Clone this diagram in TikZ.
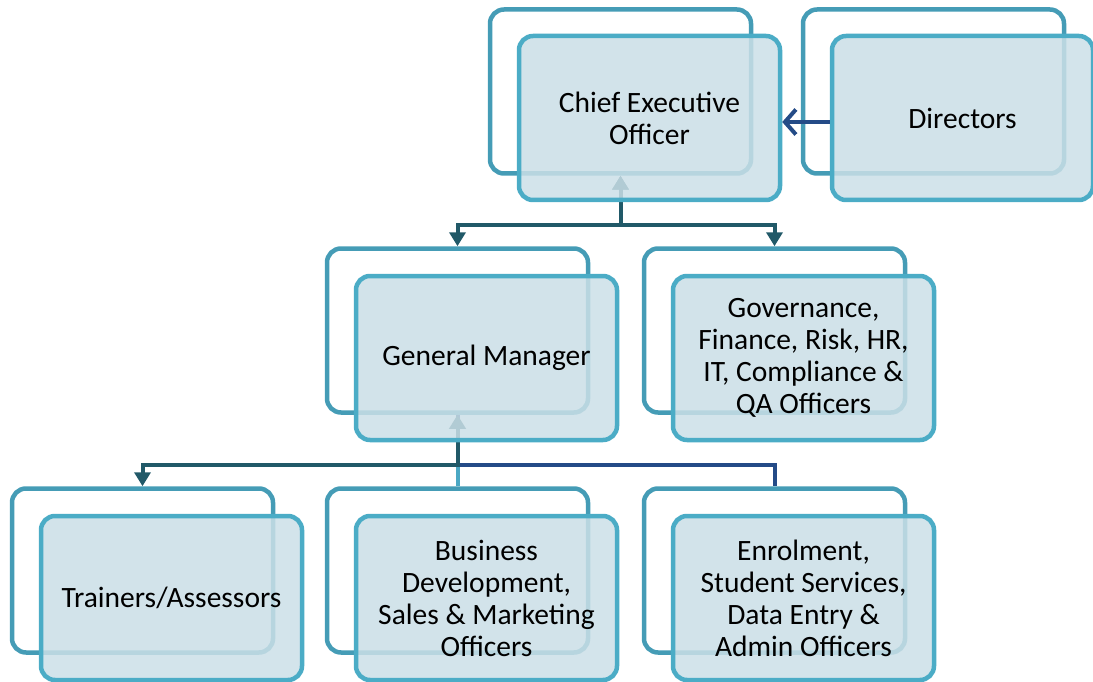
\documentclass[tikz,border=0pt]{standalone}
\usepackage{fontspec}
\setmainfont{Carlito}
\usetikzlibrary{arrows.meta}
\definecolor{backline}{RGB}{69,156,182}
\definecolor{frontline}{RGB}{75,172,198}
\definecolor{frontfill}{RGB}{203,223,231}
\definecolor{darkteal}{RGB}{33,89,104}
\definecolor{darkblue}{RGB}{36,75,135}
\definecolor{lightlink}{RGB}{75,168,196}
\tikzset{
  boxbase/.style={rectangle, inner sep=0pt, minimum width=261pt, minimum height=164pt,
    rounded corners=14pt, line width=4.5pt},
  backbox/.style={boxbase, draw=backline, fill=white},
  frontbox/.style={boxbase, draw=frontline, fill=frontfill, fill opacity=0.85,
    draw opacity=1, text opacity=1, align=center, text=black,
    font=\fontsize{29.5}{32}\selectfont},
  conn/.style={line width=4pt, draw=darkteal},
  bluelink/.style={line width=4pt, draw=darkblue},
  lightconn/.style={line width=4pt, draw=lightlink},
  dirarrow/.style={line width=4pt, draw=darkblue, -{Straight Barb[length=11pt,width=25pt,line width=4pt]}}
}
\begin{document}
\begin{tikzpicture}[x=1pt,y=-1pt]
\useasboundingbox (0,0) rectangle (1093,682);
% back boxes
\node[backbox] (ceoB) at (620.5,91.5) {};
\node[backbox] (dirB) at (933.5,91.5) {};
\node[backbox] (gmB) at (457.5,330.5) {};
\node[backbox] (govB) at (774.5,330.5) {};
\node[backbox] (trB) at (142.5,570.5) {};
\node[backbox] (bdB) at (457.5,570.5) {};
\node[backbox] (enB) at (774.5,570.5) {};
% junctions
\coordinate (j1) at (620.5,225);
\coordinate (j2) at (457.5,465);
% connectors
\draw[conn, {Triangle[width=16pt,length=14pt]}-{Triangle[width=16pt,length=14pt]}] (ceoB.south) -- (j1) -| (gmB.north);
\draw[conn, {Triangle[width=16pt,length=14pt]}-{Triangle[width=16pt,length=14pt]}] (ceoB.south) -- (j1) -| (govB.north);
\draw[lightconn] (gmB.south) -- (bdB.north);
\draw[bluelink] (gmB.south) -- (j2) -| (enB.north);
\draw[conn, {Triangle[width=16pt,length=14pt]}-{Triangle[width=16pt,length=14pt]}] (gmB.south) -- (j2) -| (trB.north);
% front boxes
\node[frontbox] (ceo) at (649.5,118) {Chief Executive\\Officer};
\node[frontbox] (dir) at (962.5,118) {Directors};
\node[frontbox] (gm) at (486.5,358) {General Manager};
\node[frontbox] (gov) at (803.5,358) {Governance,\\Finance, Risk, HR,\\IT, Compliance \&\\QA Officers};
\node[frontbox] (tr) at (171.5,598) {Trainers/Assessors};
\node[frontbox] (bd) at (486.5,598) {Business\\Development,\\Sales \& Marketing\\Officers};
\node[frontbox] (en) at (803.5,598) {Enrolment,\\Student Services,\\Data Entry \&\\Admin Officers};
% directors arrow
\draw[dirarrow] ([yshift=-4pt]dir.west) -- ([yshift=-4pt]ceo.east);
\end{tikzpicture}
\end{document}
